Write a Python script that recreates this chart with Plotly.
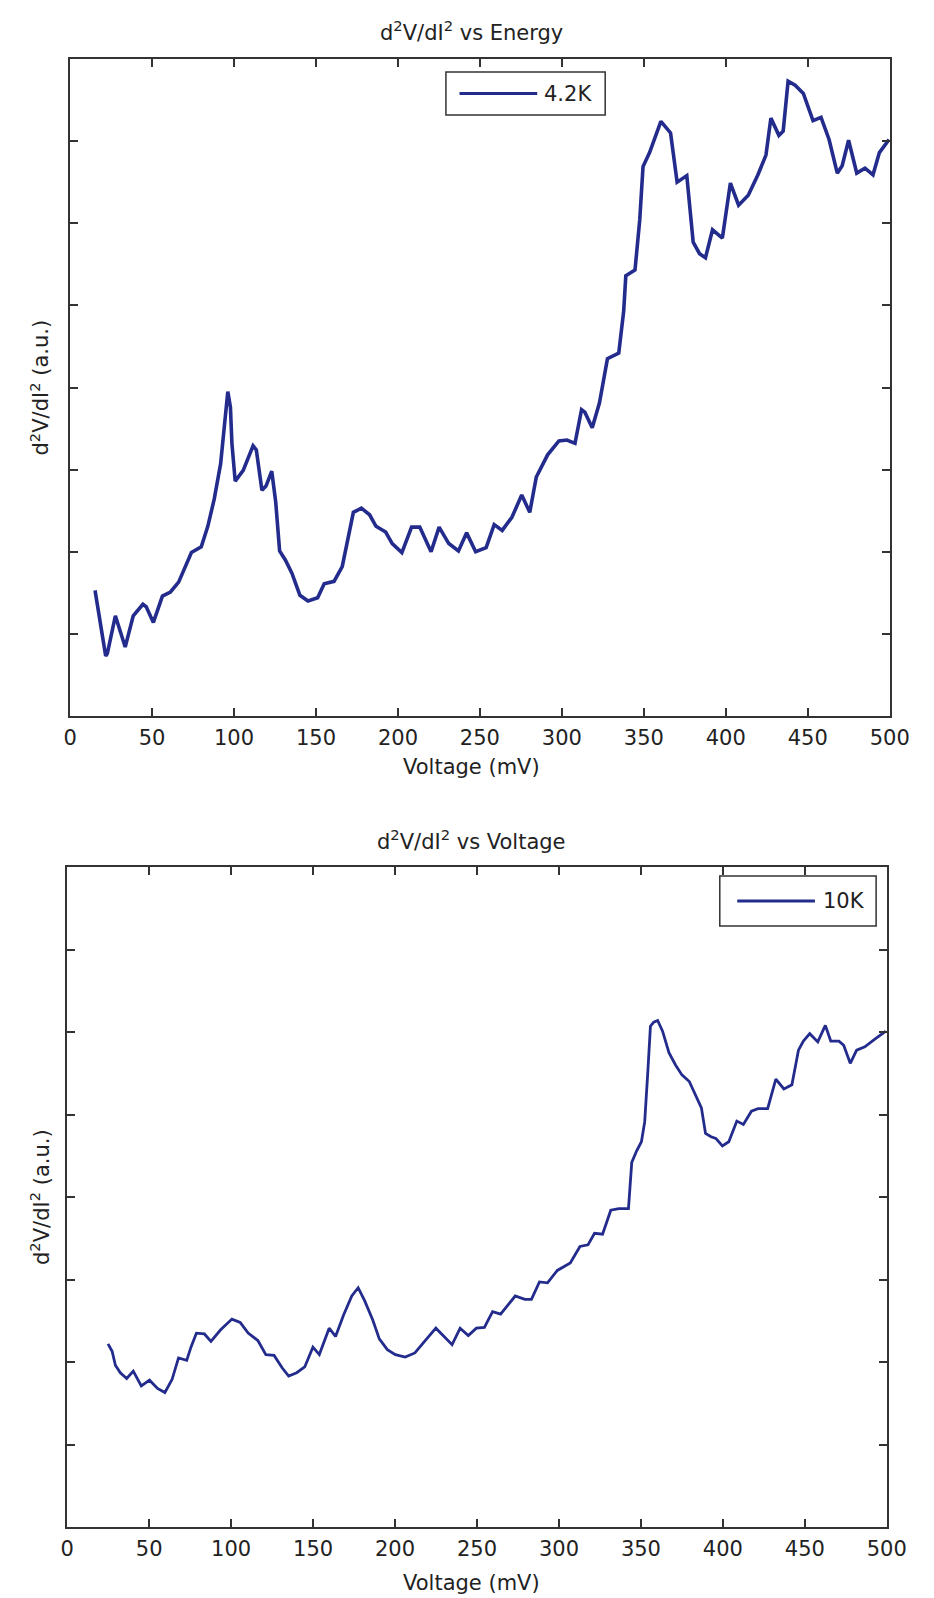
import plotly.graph_objects as go

# d2V/dI2 spectra (arbitrary units) versus bias voltage (mV)
voltage_42k = [15.2, 21.7, 22.7, 27.6, 33.6, 38.5, 44.4, 46.4, 50.8, 56.3, 61.2, 66.2, 74.0, 80.0,
               84.0, 87.9, 91.8, 94.8, 96.2, 97.8, 98.7, 100.7, 105.6, 111.6, 113.6, 117.0, 119.5,
               123.0, 125.4, 127.8, 131.3, 135.3, 140.2, 145.1, 151.0, 155.0, 161.0, 166.0, 170.0,
               172.8, 177.7, 182.7, 186.6, 192.5, 196.5, 202.4, 208.3, 213.3, 220.2, 225.1, 231.0,
               236.9, 241.9, 247.4, 253.8, 258.7, 263.6, 269.5, 275.5, 280.4, 284.4, 291.3, 298.2,
               303.1, 308.0, 312.0, 314.0, 318.5, 322.9, 327.8, 334.7, 337.7, 339.0, 344.6, 347.5,
               349.5, 353.5, 360.4, 366.3, 370.3, 376.2, 380.1, 384.0, 387.6, 391.9, 397.9, 402.8,
               407.8, 413.7, 419.6, 424.5, 427.5, 432.4, 435.0, 438.0, 442.3, 447.3, 453.2, 458.1,
               463.0, 468.0, 471.0, 474.9, 479.9, 484.9, 489.8, 493.7, 499.6]
signal_42k = [1.53, 0.73, 0.76, 1.22, 0.84, 1.22, 1.36, 1.33, 1.14, 1.46, 1.51, 1.63, 1.99, 2.06,
              2.31, 2.64, 3.07, 3.65, 3.95, 3.76, 3.32, 2.86, 2.99, 3.29, 3.24, 2.75, 2.80,
              2.98, 2.61, 2.01, 1.90, 1.74, 1.47, 1.40, 1.44, 1.61, 1.64, 1.82, 2.18,
              2.48, 2.53, 2.45, 2.31, 2.24, 2.10, 1.99, 2.30, 2.30, 2.00, 2.30, 2.10,
              2.01, 2.23, 2.00, 2.05, 2.33, 2.26, 2.42, 2.69, 2.48, 2.91, 3.18, 3.35,
              3.36, 3.32, 3.73, 3.70, 3.51, 3.81, 4.35, 4.42, 4.93, 5.36, 5.43, 6.04,
              6.69, 6.86, 7.24, 7.10, 6.50, 6.58, 5.77, 5.63, 5.58, 5.92, 5.82, 6.49,
              6.22, 6.34, 6.59, 6.83, 7.28, 7.07, 7.12, 7.73, 7.68, 7.58, 7.25, 7.29,
              7.02, 6.61, 6.70, 7.01, 6.61, 6.67, 6.59, 6.86, 7.02]

voltage_10k = [24.9, 27.4, 29.4, 32.4, 36.3, 40.3, 45.2, 50.2, 55.1, 59.6, 64.0, 67.9, 72.9, 75.5,
               78.8, 83.7, 87.7, 93.6, 100.5, 105.5, 110.4, 116.3, 121.2, 126.2, 131.1, 135.1,
               140.0, 144.9, 149.9, 153.8, 159.8, 163.7, 168.6, 173.6, 177.5, 181.5, 186.4, 190.4,
               195.3, 200.2, 206.2, 212.1, 218.0, 224.9, 229.9, 234.8, 239.7, 244.7, 249.6, 254.5,
               259.5, 264.4, 273.3, 279.2, 283.2, 288.1, 293.0, 299.0, 306.9, 312.8, 317.7, 321.7,
               326.6, 331.6, 336.5, 342.4, 344.4, 347.4, 350.3, 352.3, 354.3, 355.8, 357.8, 360.2,
               363.2, 367.1, 371.1, 375.0, 379.5, 382.9, 386.9, 389.4, 392.8, 395.7, 399.7, 403.6,
               408.5, 412.5, 417.4, 421.4, 427.3, 432.3, 437.2, 442.1, 446.1, 449.1, 453.0, 457.9,
               462.5, 465.8, 470.8, 473.7, 477.7, 481.6, 486.6, 492.5, 499.4]
signal_10k = [2.22, 2.13, 1.96, 1.87, 1.80, 1.89, 1.71, 1.78, 1.68, 1.63, 1.79, 2.05, 2.02, 2.18,
              2.35, 2.34, 2.25, 2.39, 2.52, 2.48, 2.35, 2.26, 2.09, 2.08, 1.93, 1.83,
              1.87, 1.94, 2.18, 2.09, 2.41, 2.31, 2.57, 2.80, 2.90, 2.74, 2.51, 2.28,
              2.15, 2.09, 2.06, 2.11, 2.25, 2.41, 2.31, 2.21, 2.41, 2.32, 2.41, 2.42,
              2.61, 2.58, 2.80, 2.76, 2.76, 2.97, 2.96, 3.11, 3.20, 3.40, 3.42, 3.56,
              3.55, 3.84, 3.86, 3.86, 4.42, 4.56, 4.67, 4.91, 5.55, 6.07, 6.12, 6.14,
              6.01, 5.75, 5.60, 5.48, 5.40, 5.26, 5.08, 4.77, 4.73, 4.71, 4.62, 4.67,
              4.92, 4.88, 5.04, 5.07, 5.07, 5.43, 5.31, 5.36, 5.78, 5.89, 5.98, 5.88,
              6.08, 5.89, 5.89, 5.84, 5.62, 5.78, 5.82, 5.91, 6.01]

x_ticks = [0, 50, 100, 150, 200, 250, 300, 350, 400, 450, 500]
y_ticks = [1, 2, 3, 4, 5, 6, 7]

titles = ["d<sup>2</sup>V/dI<sup>2</sup> vs Energy", "d<sup>2</sup>V/dI<sup>2</sup> vs Voltage"]
x_label = "Voltage (mV)"
y_label = "d<sup>2</sup>V/dI<sup>2</sup> (a.u.)"
legend_names = ["4.2K", "10K"]

W, H = 934, 1598
LINE_COLOR = "#232c8c"
AXIS_COLOR = "#333333"
TEXT_COLOR = "#222222"
FONT = "DejaVu Sans"
FONT_SIZE = 21


def px(x):
    return x / W


def py(y):
    return 1 - y / H


fig = go.Figure()
fig.add_trace(go.Scatter(x=voltage_42k, y=signal_42k, mode="lines", name=legend_names[0],
                         line=dict(color=LINE_COLOR, width=3.6), xaxis="x", yaxis="y",
                         showlegend=False))
fig.add_trace(go.Scatter(x=voltage_10k, y=signal_10k, mode="lines", name=legend_names[1],
                         line=dict(color=LINE_COLOR, width=2.8), xaxis="x2", yaxis="y2",
                         showlegend=False))

# panel frames in pixels: (left, right, top, bottom)
panels = [(65, 909, 59, 716), (62, 906, 867, 1527)]

axis_common = dict(showline=True, linecolor=AXIS_COLOR, linewidth=2, mirror="ticks",
                   ticks="inside", ticklen=8, tickwidth=1.5, tickcolor=AXIS_COLOR,
                   showgrid=False, zeroline=False)

layout = dict(width=W, height=H, margin=dict(l=0, r=0, t=0, b=0),
              paper_bgcolor="white", plot_bgcolor="white",
              font=dict(family=FONT, size=FONT_SIZE, color=TEXT_COLOR))
for i, (l, r, t, b) in enumerate(panels):
    sx = "" if i == 0 else "2"
    layout["xaxis" + sx] = dict(axis_common, domain=[px(l), px(r)], range=[0, 500],
                                tickvals=x_ticks, ticklabelstandoff=2,
                                tickfont=dict(family=FONT, size=FONT_SIZE, color=TEXT_COLOR),
                                anchor="y" + sx)
    layout["yaxis" + sx] = dict(axis_common, domain=[py(b), py(t)], range=[0, 8],
                                tickvals=y_ticks, showticklabels=False, anchor="x" + sx)
fig.update_layout(**layout)

annotations = []
shapes = []
# titles and axis labels
title_y = [31, 840]
xlabel_y = [767, 1583]
for i, (l, r, t, b) in enumerate(panels):
    cx = px(478)
    annotations.append(dict(text=titles[i], x=cx, y=py(title_y[i]), xref="paper", yref="paper",
                            showarrow=False, xanchor="center", yanchor="middle",
                            font=dict(family=FONT, size=FONT_SIZE, color=TEXT_COLOR)))
    annotations.append(dict(text=x_label, x=cx, y=py(xlabel_y[i]), xref="paper", yref="paper",
                            showarrow=False, xanchor="center", yanchor="middle",
                            font=dict(family=FONT, size=FONT_SIZE, color=TEXT_COLOR)))
    annotations.append(dict(text=y_label, x=px(34), y=py((t + b) / 2), xref="paper",
                            yref="paper", showarrow=False, textangle=-90, xanchor="center",
                            yanchor="middle",
                            font=dict(family=FONT, size=FONT_SIZE, color=TEXT_COLOR)))

# legend boxes: (box left, right, top, bottom, sample start, sample end, text x)
legend_boxes = [(452, 616, 72, 115, 466, 546, 551), (734, 895, 876, 926, 752, 832, 838)]
for i, (l, r, t, b, s0, s1, tx) in enumerate(legend_boxes):
    shapes.append(dict(type="rect", xref="paper", yref="paper", x0=px(l), x1=px(r),
                       y0=py(b), y1=py(t), line=dict(color=AXIS_COLOR, width=1.5),
                       fillcolor="white", layer="above"))
    cy = (t + b) / 2
    shapes.append(dict(type="line", xref="paper", yref="paper", x0=px(s0), x1=px(s1),
                       y0=py(cy), y1=py(cy), line=dict(color=LINE_COLOR, width=3),
                       layer="above"))
    annotations.append(dict(text=legend_names[i], x=px(tx), y=py(cy), xref="paper",
                            yref="paper", showarrow=False, xanchor="left", yanchor="middle",
                            font=dict(family=FONT, size=FONT_SIZE, color=TEXT_COLOR)))

fig.update_layout(annotations=annotations, shapes=shapes)
fig.write_html("out.html")
